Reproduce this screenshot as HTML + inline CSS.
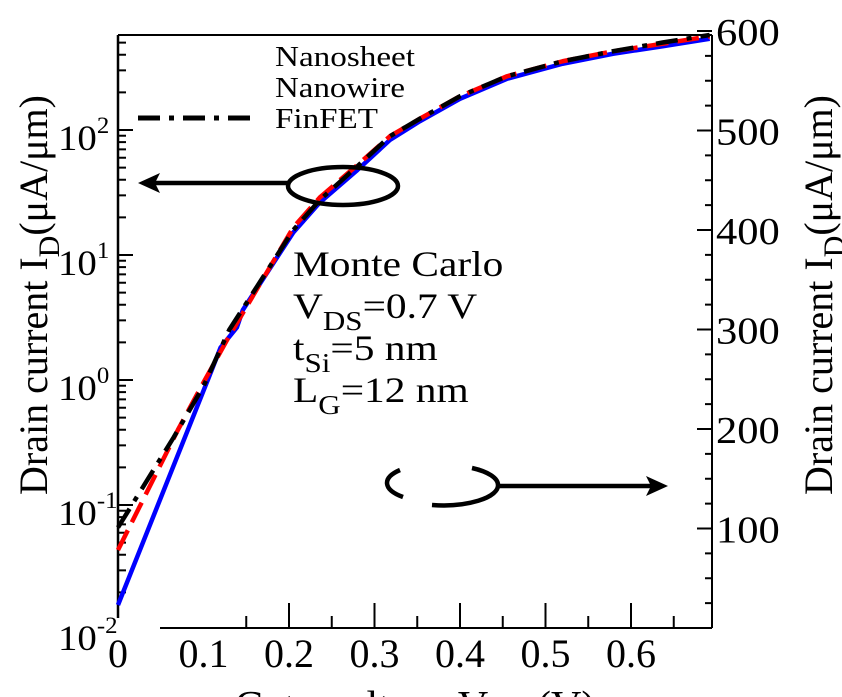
<!DOCTYPE html>
<html><head><meta charset="utf-8"><style>
html,body{margin:0;padding:0;background:#fff;width:842px;height:697px;overflow:hidden;}
svg{display:block;font-family:"Liberation Serif",serif;overflow:hidden;}
</style></head><body>
<svg id="chart" width="842" height="697" viewBox="0 0 842 697" xmlns="http://www.w3.org/2000/svg">
<g id="axes"></g>
<g id="series"></g>
<g id="annot">
  <text x="275" y="66" font-size="28" textLength="140" lengthAdjust="spacingAndGlyphs">Nanosheet</text>
  <text x="275" y="97" font-size="28" textLength="130" lengthAdjust="spacingAndGlyphs">Nanowire</text>
  <text x="275" y="128" font-size="28" textLength="103" lengthAdjust="spacingAndGlyphs">FinFET</text>
  <line x1="138" y1="118" x2="257" y2="118" stroke="#000" stroke-width="5" stroke-dasharray="22,9,5,9"/>
  <ellipse cx="343" cy="186" rx="55" ry="19" fill="none" stroke="#000" stroke-width="4.5"/>
  <line x1="288" y1="183" x2="150" y2="183" stroke="#000" stroke-width="4.5"/>
  <polygon points="138,183 160,173 155,183 160,193" fill="#000"/>
  <path d="M400,470 A55,20 0 0 0 403,497 M432,505 A55,20 0 0 0 498,485 A55,20 0 0 0 472,468" fill="none" stroke="#000" stroke-width="4.5"/>
  <line x1="498" y1="486" x2="655" y2="486" stroke="#000" stroke-width="4.5"/>
  <polygon points="668,486 646,476 651,486 646,496" fill="#000"/>
  <g font-size="36" transform="translate(293,0) scale(1.15,1)">
    <text x="0" y="276">Monte Carlo</text>
    <text x="0" y="318">V<tspan font-size="27" dy="12">DS</tspan><tspan dy="-12">=0.7 V</tspan></text>
    <text x="0" y="360">t<tspan font-size="27" dy="12">Si</tspan><tspan dy="-12">=5 nm</tspan></text>
    <text x="0" y="402">L<tspan font-size="27" dy="12">G</tspan><tspan dy="-12">=12 nm</tspan></text>
  </g>
  <text transform="translate(47,295) rotate(-90)" text-anchor="middle" font-size="40">Drain current I<tspan font-size="30" dy="12">D</tspan><tspan dy="-12">(μA/μm)</tspan></text>
  <text transform="translate(832,295) rotate(-90)" text-anchor="middle" font-size="40">Drain current I<tspan font-size="30" dy="12">D</tspan><tspan dy="-12">(μA/μm)</tspan></text>
  <text x="415" y="720" text-anchor="middle" font-size="42">Gate voltage V<tspan font-size="30" dy="8">GS</tspan><tspan dy="-8"> (V)</tspan></text>
</g>
</svg>
<script>
const xTicks=[0,0.1,0.2,0.3,0.4,0.5,0.6];
const xTickLabels=["0","0.1","0.2","0.3","0.4","0.5","0.6"];
const logTicks=[-2,-1,0,1,2];
const rightTicks=[100,200,300,400,500,600];
const vgsBlue=[0,0.105,0.12,0.139,0.146,0.205,0.236,0.28,0.318,0.353,0.4,0.455,0.52,0.579,0.637,0.692];
const logBlue=[-1.8,0.0,0.26,0.42,0.56,1.18,1.42,1.68,1.92,2.07,2.25,2.41,2.53,2.61,2.67,2.73];
const vgsRed=[0,0.07,0.1,0.13,0.205,0.236,0.28,0.318,0.353,0.4,0.455,0.52,0.579,0.637,0.692];
const logRed=[-1.36,-0.4,-0.02,0.35,1.22,1.46,1.72,1.95,2.09,2.27,2.43,2.55,2.63,2.69,2.75];
const vgsBlack=[0,0.065,0.1,0.13,0.205,0.236,0.28,0.318,0.353,0.4,0.455,0.52,0.579,0.637,0.692];
const logBlack=[-1.18,-0.46,-0.05,0.4,1.2,1.44,1.71,1.95,2.09,2.27,2.43,2.55,2.63,2.7,2.76];

const NS="http://www.w3.org/2000/svg";
const X=v=>118+v*855;
const YL=l=>130+(2-l)*125;
const YR=v=>628-v*0.995;
function mk(tag,attrs,parent){const e=document.createElementNS(NS,tag);for(const k in attrs)e.setAttribute(k,attrs[k]);parent.appendChild(e);return e;}
const ax=document.getElementById('axes');
let e;
e=mk('line',{x1:118,y1:35,x2:712,y2:35,stroke:'#000','stroke-width':2},ax);


e=mk('line',{x1:118,y1:35,x2:118,y2:618,stroke:'#000','stroke-width':2.5},ax);


e=mk('line',{x1:712,y1:35,x2:712,y2:628,stroke:'#000','stroke-width':2},ax);


e=mk('line',{x1:160,y1:628,x2:712,y2:628,stroke:'#000','stroke-width':2},ax);


xTicks.forEach((t,i)=>{
  if(t>=0.15){const l=mk('line',{x1:X(t),y1:628,x2:X(t),y2:603,stroke:'#000','stroke-width':2},ax);
  
  }
  const tx=mk('text',{x:X(t),y:667,'text-anchor':'middle','font-size':40},ax);
  tx.textContent=xTickLabels[i];
  
  
});
[0.15,0.25,0.35,0.45,0.55,0.65].forEach(t=>{
  const l=mk('line',{x1:X(t),y1:628,x2:X(t),y2:616,stroke:'#000','stroke-width':2},ax);
  
  
});
logTicks.forEach(d=>{
  if(d>-2){const l=mk('line',{x1:118,y1:YL(d),x2:133,y2:YL(d),stroke:'#000','stroke-width':2},ax);
  
  }
  const tx=mk('text',{x:0,y:0,'font-size':36,transform:'translate(58,'+(YL(d)+20)+') scale(1.08,1)'},ax);
  tx.innerHTML='10<tspan font-size="23" dy="-17">'+d+'</tspan>';
  
  
  for(let m=2;m<=9;m++){const ly=YL(d+Math.log10(m));
    if(ly<35||ly>618)continue;
    const l2=mk('line',{x1:118,y1:ly,x2:126,y2:ly,stroke:'#000','stroke-width':2},ax);
    
    }
});
for(let v=25;v<=600;v+=25){
  const major=v%100===0;
  const l=mk('line',{x1:712,y1:YR(v),x2:major?697:705,y2:YR(v),stroke:'#000','stroke-width':2},ax);
  
  
}
rightTicks.forEach(v=>{
  const tx=mk('text',{x:0,y:0,'font-size':38,transform:'translate(716,'+(YR(v)+14)+') scale(1.12,1)'},ax);
  tx.textContent=String(v);
  
  
});
const sg=document.getElementById('series');
function line(xs,ls,color,dash,name){
  const p=mk('polyline',{points:xs.map((x,i)=>X(x)+','+YL(ls[i])).join(' '),fill:'none',stroke:color,'stroke-width':4.5,'stroke-linejoin':'round'},sg);
  if(dash)p.setAttribute('stroke-dasharray',dash);
  
  
}
line(vgsBlue,logBlue,'#0000ff',null,'nanosheet-line');
line(vgsRed,logRed,'#ff0000','22,9','nanowire-line');
line(vgsBlack,logBlack,'#000000','22,9,5,9','finfet-line');
</script>
</body></html>
